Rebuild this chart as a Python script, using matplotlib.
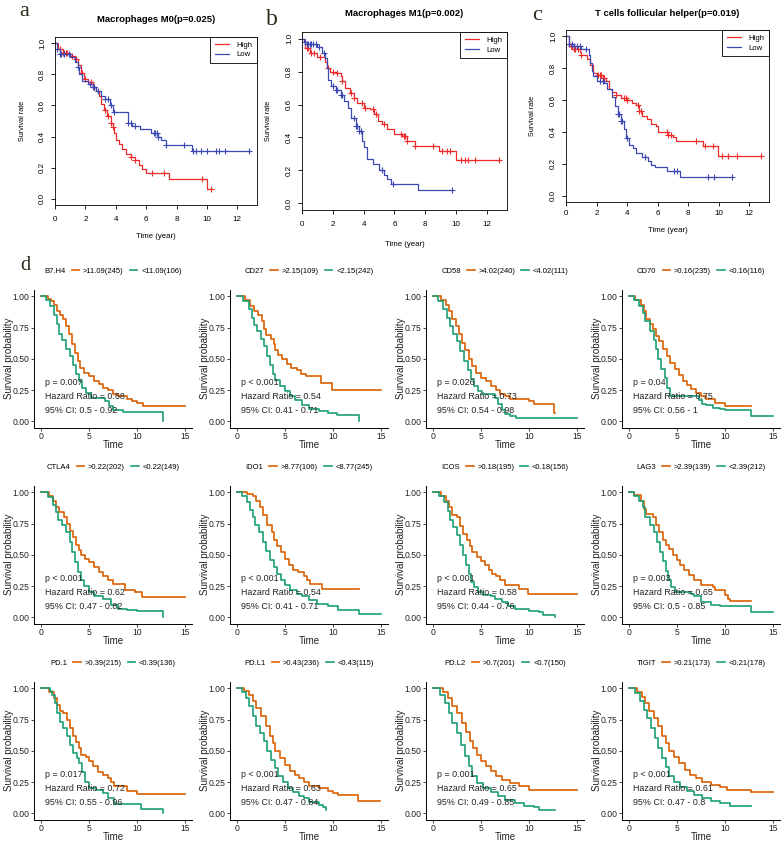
import numpy as np
import matplotlib
matplotlib.use("Agg")
import matplotlib.pyplot as plt
from matplotlib.lines import Line2D

plt.rcParams['font.family'] = ['Liberation Sans', 'DejaVu Sans']

W, H = 784, 844
RED = '#EE2A2A'
BLUE = '#3D49B3'
ORANGE = '#D95F02'
GREEN = '#1B9E77'

# --- top row (a-c): KM steps, plus censor times ---
m0_hi_t = [0, 0.2, 0.5, 1.0, 1.3, 1.5, 1.7, 1.9, 2.2, 2.5, 2.7, 2.9, 3.0, 3.2, 3.4, 3.7, 3.8, 3.9, 4.0, 4.2, 4.4, 4.7, 5.0, 5.3, 5.5, 5.7, 6.0, 7.5, 10.0, 10.3]
m0_hi_s = [1.0, 0.96, 0.94, 0.92, 0.90, 0.86, 0.81, 0.77, 0.75, 0.72, 0.69, 0.66, 0.61, 0.57, 0.53, 0.49, 0.46, 0.42, 0.38, 0.35, 0.32, 0.29, 0.27, 0.25, 0.22, 0.19, 0.165, 0.13, 0.065, 0.065]
m0_hi_c = [0.3, 0.5, 0.6, 0.7, 0.8, 1.1, 1.4, 1.8, 2.0, 2.4, 2.6, 3.3, 3.5, 3.7, 3.8, 5.0, 5.3, 6.4, 7.2, 9.7, 10.3]
m0_lo_t = [0, 0.1, 0.3, 1.0, 1.3, 1.5, 1.6, 1.8, 2.2, 2.5, 2.7, 3.0, 3.3, 3.6, 3.8, 4.8, 5.1, 5.6, 6.3, 6.8, 7.0, 7.3, 9.0, 12.8]
m0_lo_s = [1.0, 0.96, 0.93, 0.91, 0.88, 0.85, 0.80, 0.76, 0.74, 0.72, 0.69, 0.66, 0.64, 0.60, 0.557, 0.486, 0.465, 0.45, 0.425, 0.40, 0.375, 0.345, 0.31, 0.31]
m0_lo_c = [0.1, 0.3, 0.4, 0.6, 0.9, 1.5, 2.3, 2.5, 2.6, 2.8, 3.3, 3.5, 3.7, 3.9, 4.8, 5.0, 5.3, 6.5, 6.6, 6.7, 6.8, 7.3, 8.5, 9.1, 9.3, 9.6, 10.0, 10.6, 10.8, 11.2, 12.8]

m1_hi_t = [0, 0.2, 0.5, 1.0, 1.5, 1.6, 1.8, 2.2, 2.5, 2.6, 2.8, 3.1, 3.4, 3.6, 4.0, 4.4, 4.7, 4.9, 5.2, 5.5, 6.0, 6.5, 6.8, 7.3, 8.9, 10.0, 12.8]
m1_hi_s = [1.0, 0.94, 0.91, 0.89, 0.86, 0.82, 0.80, 0.79, 0.77, 0.74, 0.70, 0.67, 0.64, 0.61, 0.58, 0.57, 0.54, 0.50, 0.48, 0.45, 0.42, 0.41, 0.38, 0.348, 0.315, 0.264, 0.264]
m1_hi_c = [0.3, 0.4, 0.6, 0.8, 1.2, 1.7, 2.0, 2.3, 2.6, 3.2, 3.4, 3.9, 4.1, 4.6, 4.8, 5.3, 6.4, 6.6, 6.7, 6.8, 7.3, 8.5, 9.1, 9.4, 9.6, 10.3, 10.6, 10.8, 11.2, 12.8]
m1_lo_t = [0, 0.1, 0.3, 1.0, 1.3, 1.5, 1.6, 1.7, 1.9, 2.2, 2.5, 2.7, 3.0, 3.2, 3.5, 3.7, 3.9, 4.0, 4.2, 4.6, 5.0, 5.3, 5.5, 5.8, 7.5, 9.7]
m1_lo_s = [1.0, 0.98, 0.97, 0.95, 0.91, 0.88, 0.82, 0.75, 0.71, 0.69, 0.66, 0.62, 0.58, 0.52, 0.47, 0.44, 0.38, 0.34, 0.27, 0.24, 0.20, 0.17, 0.15, 0.12, 0.08, 0.08]
m1_lo_c = [0.2, 0.3, 0.4, 0.5, 0.6, 0.7, 0.9, 1.1, 1.4, 2.0, 2.2, 2.3, 2.5, 2.6, 3.4, 3.5, 3.6, 3.7, 3.8, 5.2, 5.9, 9.7]

tfh_hi_t = [0, 0.2, 0.5, 0.9, 1.0, 1.4, 1.6, 1.8, 2.0, 2.4, 2.6, 2.8, 3.0, 3.3, 3.6, 4.0, 4.3, 4.6, 4.8, 5.0, 5.3, 5.6, 5.9, 6.0, 6.7, 7.0, 7.2, 9.0, 9.95, 12.8]
tfh_hi_s = [1.0, 0.94, 0.92, 0.90, 0.88, 0.86, 0.82, 0.77, 0.76, 0.74, 0.72, 0.67, 0.65, 0.63, 0.61, 0.60, 0.58, 0.57, 0.53, 0.50, 0.48, 0.45, 0.44, 0.40, 0.38, 0.37, 0.346, 0.31, 0.25, 0.25]
tfh_hi_c = [0.3, 0.4, 0.5, 0.6, 0.8, 1.0, 2.1, 2.2, 2.3, 2.4, 2.5, 3.3, 3.8, 3.9, 4.0, 4.7, 4.8, 4.9, 6.6, 6.7, 6.9, 8.5, 9.1, 9.6, 10.2, 10.6, 11.2, 12.8]
tfh_lo_t = [0, 0.2, 0.5, 1.0, 1.5, 1.6, 1.7, 1.8, 2.0, 2.5, 2.7, 3.0, 3.2, 3.4, 3.6, 3.8, 3.9, 4.1, 4.4, 4.6, 5.0, 5.4, 5.6, 5.8, 6.6, 7.5, 10.9]
tfh_lo_s = [1.0, 0.95, 0.94, 0.92, 0.88, 0.83, 0.78, 0.75, 0.72, 0.71, 0.67, 0.62, 0.56, 0.51, 0.47, 0.42, 0.36, 0.32, 0.30, 0.27, 0.24, 0.22, 0.19, 0.18, 0.155, 0.12, 0.12]
tfh_lo_c = [0.2, 0.4, 0.5, 0.7, 0.9, 1.3, 2.2, 2.4, 3.4, 3.5, 3.6, 3.7, 4.0, 5.2, 7.1, 7.3, 9.3, 9.7, 10.9]

top_titles = ['Macrophages M0(p=0.025)', 'Macrophages M1(p=0.002)', 'T cells follicular helper(p=0.019)']

# --- panel d: immune checkpoint genes ---
genes = ['B7.H4', 'CD27', 'CD58', 'CD70', 'CTLA4', 'IDO1', 'ICOS', 'LAG3', 'PD.1', 'PD.L1', 'PD.L2', 'TIGIT']
cutoffs = ['11.09', '2.15', '4.02', '0.16', '0.22', '8.77', '0.18', '2.39', '0.39', '0.43', '0.7', '0.21']
n_high = [245, 109, 240, 235, 202, 106, 195, 139, 215, 236, 201, 173]
n_low = [106, 242, 111, 116, 149, 245, 156, 212, 136, 115, 150, 178]
p_text = ['p = 0.007', 'p < 0.001', 'p = 0.026', 'p = 0.04', 'p < 0.001', 'p < 0.001',
          'p < 0.001', 'p = 0.003', 'p = 0.017', 'p < 0.001', 'p = 0.001', 'p < 0.001']
hazard = ['0.68', '0.54', '0.73', '0.75', '0.62', '0.54', '0.58', '0.65', '0.72', '0.63', '0.65', '0.61']
ci_text = ['0.5 - 0.92', '0.41 - 0.71', '0.54 - 0.98', '0.56 - 1', '0.47 - 0.82', '0.41 - 0.71',
           '0.44 - 0.76', '0.5 - 0.85', '0.55 - 0.96', '0.47 - 0.84', '0.49 - 0.85', '0.47 - 0.8']

b7h4_hi_t = [0, 0.7, 1.0, 1.3, 1.6, 2.0, 2.3, 2.6, 2.9, 3.2, 3.5, 3.8, 4.1, 4.5, 5.0, 5.5, 6.0, 6.5, 7.0, 7.5, 8.0, 9.0, 9.5, 10.0, 10.6, 15.0]
b7h4_hi_s = [1.0, 0.98, 0.96, 0.93, 0.88, 0.85, 0.82, 0.76, 0.70, 0.62, 0.55, 0.48, 0.43, 0.39, 0.36, 0.32, 0.30, 0.27, 0.25, 0.22, 0.20, 0.18, 0.16, 0.15, 0.125, 0.125]
b7h4_lo_t = [0, 0.5, 0.9, 1.3, 1.6, 1.9, 2.2, 2.6, 3.0, 3.3, 3.6, 4.0, 4.3, 4.7, 5.2, 6.7, 7.1, 7.5, 8.5, 12.7]
b7h4_lo_s = [1.0, 0.97, 0.92, 0.85, 0.78, 0.70, 0.65, 0.58, 0.52, 0.45, 0.38, 0.32, 0.27, 0.23, 0.19, 0.16, 0.12, 0.09, 0.072, 0.0]

cd27_hi_t = [0, 0.8, 1.3, 1.8, 2.2, 2.6, 2.8, 3.0, 3.5, 3.8, 4.0, 4.3, 4.7, 5.2, 5.6, 6.2, 6.7, 7.2, 8.8, 9.9, 15.0]
cd27_hi_s = [1.0, 0.97, 0.92, 0.88, 0.85, 0.80, 0.74, 0.69, 0.66, 0.62, 0.57, 0.53, 0.50, 0.46, 0.43, 0.41, 0.38, 0.36, 0.31, 0.25, 0.25]
cd27_lo_t = [0, 0.6, 1.2, 1.5, 1.8, 2.1, 2.5, 2.8, 3.1, 3.4, 3.7, 4.0, 4.5, 5.0, 5.5, 6.0, 6.8, 7.5, 8.5, 9.5, 10.4, 12.7]
cd27_lo_s = [1.0, 0.96, 0.90, 0.83, 0.77, 0.72, 0.66, 0.60, 0.52, 0.45, 0.38, 0.33, 0.28, 0.24, 0.20, 0.17, 0.13, 0.10, 0.08, 0.07, 0.05, 0.0]

cd58_hi_t = [0, 0.8, 1.3, 1.6, 2.0, 2.4, 2.7, 3.0, 3.3, 3.7, 4.1, 4.5, 5.0, 5.5, 6.0, 6.6, 7.0, 7.5, 8.0, 9.5, 10.0, 10.5, 12.6, 12.7]
cd58_hi_s = [1.0, 0.97, 0.93, 0.88, 0.82, 0.76, 0.70, 0.63, 0.57, 0.50, 0.44, 0.39, 0.35, 0.32, 0.28, 0.25, 0.22, 0.20, 0.18, 0.18, 0.16, 0.14, 0.07, 0.07]
cd58_lo_t = [0, 0.5, 1.0, 1.4, 1.8, 2.1, 2.5, 2.8, 3.2, 3.6, 3.9, 4.3, 4.7, 5.1, 6.5, 6.8, 7.2, 7.5, 8.0, 8.6, 15.0]
cd58_lo_s = [1.0, 0.96, 0.90, 0.83, 0.76, 0.70, 0.64, 0.56, 0.48, 0.41, 0.34, 0.28, 0.24, 0.22, 0.19, 0.14, 0.09, 0.06, 0.045, 0.027, 0.027]

cd70_hi_t = [0, 0.6, 1.2, 1.5, 1.8, 2.2, 2.5, 2.8, 3.1, 3.5, 3.9, 4.3, 4.8, 5.2, 5.6, 6.0, 6.5, 7.0, 7.5, 8.0, 9.0, 10.0, 12.7]
cd70_hi_s = [1.0, 0.97, 0.93, 0.88, 0.82, 0.78, 0.74, 0.68, 0.64, 0.58, 0.52, 0.47, 0.42, 0.37, 0.32, 0.29, 0.26, 0.23, 0.20, 0.18, 0.15, 0.125, 0.125]
cd70_lo_t = [0, 0.5, 1.0, 1.4, 1.7, 2.2, 2.6, 2.8, 3.0, 3.3, 3.7, 4.0, 4.3, 7.3, 7.6, 8.0, 8.8, 9.5, 10.0, 12.7, 15.0]
cd70_lo_s = [1.0, 0.97, 0.92, 0.87, 0.80, 0.72, 0.65, 0.58, 0.50, 0.42, 0.35, 0.27, 0.205, 0.17, 0.14, 0.13, 0.11, 0.10, 0.093, 0.04, 0.04]

ctla4_hi_t = [0, 0.8, 1.2, 1.5, 1.9, 2.4, 2.7, 3.0, 3.3, 3.6, 3.9, 4.2, 4.6, 5.0, 5.5, 6.0, 6.5, 7.0, 7.5, 8.8, 9.8, 10.5, 15.0]
ctla4_hi_s = [1.0, 0.97, 0.93, 0.88, 0.84, 0.80, 0.75, 0.69, 0.64, 0.58, 0.54, 0.50, 0.47, 0.44, 0.40, 0.36, 0.33, 0.30, 0.27, 0.22, 0.20, 0.16, 0.16]
ctla4_lo_t = [0, 0.7, 1.2, 1.5, 1.8, 2.2, 2.6, 3.0, 3.2, 3.5, 3.8, 4.2, 4.5, 5.0, 5.5, 6.5, 7.3, 8.0, 9.0, 10.0, 12.7]
ctla4_lo_s = [1.0, 0.96, 0.90, 0.84, 0.78, 0.74, 0.68, 0.60, 0.52, 0.44, 0.36, 0.30, 0.25, 0.20, 0.17, 0.15, 0.10, 0.07, 0.06, 0.048, 0.0]

ido1_hi_t = [0, 1.0, 1.7, 2.0, 2.4, 2.7, 3.1, 3.6, 3.8, 4.2, 4.6, 5.0, 5.4, 5.8, 6.3, 7.0, 7.3, 7.6, 8.9, 12.7]
ido1_hi_s = [1.0, 0.99, 0.97, 0.93, 0.88, 0.82, 0.74, 0.68, 0.62, 0.57, 0.52, 0.47, 0.42, 0.38, 0.36, 0.33, 0.30, 0.267, 0.23, 0.23]
ido1_lo_t = [0, 0.5, 1.0, 1.3, 1.6, 1.9, 2.3, 2.7, 3.0, 3.4, 3.8, 4.2, 4.6, 5.0, 5.5, 6.2, 6.8, 7.5, 8.3, 9.5, 10.5, 12.7, 15.0]
ido1_lo_s = [1.0, 0.97, 0.92, 0.86, 0.80, 0.74, 0.68, 0.60, 0.53, 0.46, 0.40, 0.35, 0.30, 0.26, 0.22, 0.19, 0.17, 0.14, 0.11, 0.09, 0.06, 0.027, 0.027]

icos_hi_t = [0, 0.8, 1.3, 1.6, 2.0, 2.5, 2.8, 3.1, 3.5, 3.8, 4.1, 4.6, 5.0, 5.4, 5.8, 6.1, 6.6, 7.0, 7.5, 9.0, 9.9, 15.0]
icos_hi_s = [1.0, 0.97, 0.93, 0.88, 0.82, 0.80, 0.73, 0.67, 0.62, 0.57, 0.52, 0.48, 0.45, 0.42, 0.38, 0.35, 0.33, 0.30, 0.26, 0.23, 0.19, 0.19]
icos_lo_t = [0, 0.6, 1.1, 1.5, 1.8, 2.1, 2.5, 2.8, 3.1, 3.4, 3.7, 4.0, 4.3, 4.7, 5.2, 6.0, 6.5, 7.2, 7.8, 8.5, 10.0, 11.0, 11.5, 12.7]
icos_lo_s = [1.0, 0.97, 0.92, 0.85, 0.78, 0.72, 0.66, 0.58, 0.50, 0.42, 0.35, 0.28, 0.24, 0.20, 0.18, 0.17, 0.15, 0.12, 0.09, 0.07, 0.05, 0.04, 0.02, 0.0]

lag3_hi_t = [0, 0.5, 1.2, 1.5, 1.8, 2.5, 2.8, 3.1, 3.5, 3.8, 4.2, 4.6, 5.0, 5.3, 5.7, 6.2, 6.8, 7.5, 8.8, 9.0, 10.0, 10.3, 10.5, 12.7]
lag3_hi_s = [1.0, 0.98, 0.93, 0.87, 0.83, 0.80, 0.74, 0.68, 0.62, 0.58, 0.55, 0.50, 0.46, 0.42, 0.38, 0.34, 0.30, 0.26, 0.24, 0.22, 0.18, 0.15, 0.128, 0.128]
lag3_lo_t = [0, 0.5, 1.0, 1.4, 1.7, 2.2, 2.6, 2.9, 3.2, 3.5, 3.8, 4.1, 4.4, 4.8, 6.5, 6.8, 7.5, 8.5, 9.5, 12.7, 15.0]
lag3_lo_s = [1.0, 0.97, 0.93, 0.88, 0.80, 0.74, 0.68, 0.60, 0.52, 0.45, 0.37, 0.30, 0.24, 0.20, 0.19, 0.17, 0.12, 0.10, 0.093, 0.045, 0.045]

pd1_hi_t = [0, 0.8, 1.3, 1.6, 2.0, 2.3, 2.7, 3.0, 3.3, 3.6, 3.9, 4.2, 4.7, 5.0, 5.4, 5.9, 6.5, 7.0, 7.3, 7.6, 9.0, 10.0, 15.0]
pd1_hi_s = [1.0, 0.97, 0.92, 0.87, 0.82, 0.80, 0.75, 0.68, 0.62, 0.57, 0.52, 0.47, 0.45, 0.42, 0.38, 0.33, 0.31, 0.28, 0.25, 0.22, 0.18, 0.157, 0.157]
pd1_lo_t = [0, 0.9, 1.1, 1.4, 1.6, 2.0, 2.3, 2.7, 3.0, 3.3, 3.7, 4.0, 4.3, 4.6, 5.0, 5.7, 6.5, 7.0, 7.6, 10.4, 12.7]
pd1_lo_s = [1.0, 0.98, 0.95, 0.88, 0.80, 0.73, 0.68, 0.62, 0.55, 0.48, 0.44, 0.40, 0.33, 0.25, 0.20, 0.19, 0.16, 0.12, 0.077, 0.037, 0.0]

pdl1_hi_t = [0, 0.7, 1.2, 1.6, 2.0, 2.5, 3.0, 3.4, 3.7, 4.0, 4.5, 5.0, 5.5, 6.0, 6.5, 7.0, 7.5, 8.5, 9.5, 10.0, 10.5, 12.6, 14.9]
pdl1_hi_s = [1.0, 0.98, 0.95, 0.90, 0.84, 0.78, 0.70, 0.62, 0.56, 0.50, 0.44, 0.39, 0.34, 0.31, 0.28, 0.25, 0.22, 0.20, 0.18, 0.16, 0.15, 0.10, 0.10]
pdl1_lo_t = [0, 0.5, 0.9, 1.2, 1.6, 2.0, 2.4, 2.8, 3.1, 3.5, 3.9, 4.3, 4.8, 5.3, 5.8, 6.5, 7.0, 7.5, 8.5, 9.0, 9.3]
pdl1_lo_s = [1.0, 0.97, 0.92, 0.86, 0.78, 0.70, 0.64, 0.58, 0.50, 0.43, 0.36, 0.30, 0.25, 0.20, 0.17, 0.14, 0.12, 0.09, 0.07, 0.05, 0.03]

pdl2_hi_t = [0, 1.0, 1.5, 2.0, 2.5, 3.0, 3.4, 3.8, 4.2, 4.6, 5.0, 5.5, 6.0, 6.6, 7.2, 8.0, 9.0, 10.0, 15.0]
pdl2_hi_s = [1.0, 0.97, 0.92, 0.86, 0.80, 0.72, 0.65, 0.58, 0.52, 0.47, 0.42, 0.38, 0.34, 0.30, 0.27, 0.24, 0.22, 0.19, 0.19]
pdl2_lo_t = [0, 0.7, 1.2, 1.6, 2.0, 2.5, 2.9, 3.3, 3.7, 4.1, 4.6, 5.2, 6.0, 6.8, 7.5, 8.5, 9.5, 10.5, 11.0, 12.7]
pdl2_lo_s = [1.0, 0.95, 0.88, 0.80, 0.72, 0.64, 0.55, 0.46, 0.38, 0.30, 0.24, 0.20, 0.17, 0.14, 0.11, 0.08, 0.06, 0.05, 0.03, 0.03]

tigit_hi_t = [0, 0.8, 1.3, 1.7, 2.1, 2.6, 3.0, 3.4, 3.8, 4.2, 4.7, 5.2, 5.8, 6.4, 7.0, 7.6, 8.5, 9.5, 10.2, 12.7, 15.0]
tigit_hi_s = [1.0, 0.97, 0.93, 0.88, 0.82, 0.76, 0.70, 0.62, 0.56, 0.50, 0.45, 0.40, 0.35, 0.31, 0.28, 0.25, 0.23, 0.21, 0.19, 0.17, 0.17]
tigit_lo_t = [0, 0.6, 1.1, 1.5, 1.9, 2.3, 2.7, 3.0, 3.4, 3.8, 4.2, 4.7, 5.3, 6.0, 6.8, 7.6, 8.5, 9.5, 10.5, 12.7]
tigit_lo_s = [1.0, 0.96, 0.90, 0.83, 0.76, 0.68, 0.60, 0.52, 0.44, 0.37, 0.30, 0.25, 0.21, 0.18, 0.15, 0.12, 0.10, 0.08, 0.06, 0.06]

gene_curves = [
    (b7h4_hi_t, b7h4_hi_s, b7h4_lo_t, b7h4_lo_s),
    (cd27_hi_t, cd27_hi_s, cd27_lo_t, cd27_lo_s),
    (cd58_hi_t, cd58_hi_s, cd58_lo_t, cd58_lo_s),
    (cd70_hi_t, cd70_hi_s, cd70_lo_t, cd70_lo_s),
    (ctla4_hi_t, ctla4_hi_s, ctla4_lo_t, ctla4_lo_s),
    (ido1_hi_t, ido1_hi_s, ido1_lo_t, ido1_lo_s),
    (icos_hi_t, icos_hi_s, icos_lo_t, icos_lo_s),
    (lag3_hi_t, lag3_hi_s, lag3_lo_t, lag3_lo_s),
    (pd1_hi_t, pd1_hi_s, pd1_lo_t, pd1_lo_s),
    (pdl1_hi_t, pdl1_hi_s, pdl1_lo_t, pdl1_lo_s),
    (pdl2_hi_t, pdl2_hi_s, pdl2_lo_t, pdl2_lo_s),
    (tigit_hi_t, tigit_hi_s, tigit_lo_t, tigit_lo_s),
]


fig = plt.figure(figsize=(W / 100, H / 100), dpi=100)


def px_axes(left, top, right, bottom):
    return fig.add_axes([left / W, 1 - bottom / H, (right - left) / W, (bottom - top) / H])


def ftext(x, y, s, **kw):
    fig.text(x / W, 1 - y / H, s, **kw)


def surv_at(t, s, x):
    idx = np.searchsorted(np.asarray(t), np.asarray(x), side='right') - 1
    return np.asarray(s)[idx]


# --- panels a, b, c (base-R style) ---
top_boxes = [(55, 37, 257, 205), (302, 32, 507, 210), (566, 30, 769, 202)]
top_xpad = [4.8, 4.8, 3.0]
top_curves = [
    ((m0_hi_t, m0_hi_s, m0_hi_c), (m0_lo_t, m0_lo_s, m0_lo_c)),
    ((m1_hi_t, m1_hi_s, m1_hi_c), (m1_lo_t, m1_lo_s, m1_lo_c)),
    ((tfh_hi_t, tfh_hi_s, tfh_hi_c), (tfh_lo_t, tfh_lo_s, tfh_lo_c)),
]
title_y = [19, 13, 13]
xlab_y = [237, 244, 230]
letters = [('a', 24, 16.5, 16), ('b', 272, 25, 17), ('c', 537, 20, 16)]

for i, box in enumerate(top_boxes):
    ax = px_axes(*box)
    for (t, s, c), col in zip(top_curves[i], [RED, BLUE]):
        ax.step(t, s, where='post', color=col, lw=0.9)
        ax.plot(c, surv_at(t, s, c), ls='none', marker='+', ms=4.5, mew=0.8, color=col)
    ax.set_xlim(0, 13.3)
    ax.set_ylim(-0.04, 1.04)
    ax.set_xticks(range(0, 13, 2))
    yt = np.arange(0, 1.01, 0.2)
    ax.set_yticks(yt)
    ax.set_yticklabels([f'{v:.1f}' for v in yt], rotation=90, va='center')
    ax.tick_params(axis='x', length=3, width=0.6, labelsize=5.8, pad=top_xpad[i])
    ax.tick_params(axis='y', length=3, width=0.6, labelsize=5.8, pad=3.5)
    for sp in ax.spines.values():
        sp.set_linewidth(0.6)
    leg_handles = [Line2D([], [], color=RED, lw=0.9), Line2D([], [], color=BLUE, lw=0.9)]
    leg = ax.legend(leg_handles, ['High', 'Low'], loc='upper right', borderaxespad=0, fancybox=False,
                    edgecolor='black', framealpha=1, fontsize=5.6, handlelength=1.9,
                    handletextpad=0.9, borderpad=0.6, labelspacing=0.25)
    leg.get_frame().set_linewidth(0.6)
    l, t_, r, b = box
    ftext((l + r) / 2, title_y[i], top_titles[i], fontsize=6.8, fontweight='bold', ha='center', va='center')
    ftext((l + r) / 2, xlab_y[i], 'Time (year)', fontsize=5.6, ha='center', va='center')
    ftext(l - 33, (t_ + b) / 2, 'Survival rate', fontsize=5.2, rotation=90, ha='center', va='center')
    ch, lx, ly, fs = letters[i]
    ftext(lx, ly, ch, fontsize=fs, family='Liberation Serif', color='#2a2a1a', ha='center', va='baseline')

ftext(25, 270, 'd', fontsize=14.5, family='Liberation Serif', color='#2a2a1a', ha='center', va='baseline')

# --- panel d grid (survminer style) ---
col_left = [34, 230, 426, 622]
row_top = [290, 486, 682]
pw, ph = 158, 137.5

for k, gene in enumerate(genes):
    r, c = divmod(k, 4)
    l, t_ = col_left[c], row_top[r]
    ax = px_axes(l, t_, l + pw, t_ + ph)
    hi_t, hi_s, lo_t, lo_s = gene_curves[k]
    ax.step(hi_t, hi_s, where='post', color=ORANGE, lw=1.2)
    ax.step(lo_t, lo_s, where='post', color=GREEN, lw=1.2)
    ax.set_xlim(-0.75, 15.75)
    ax.set_ylim(-0.05, 1.05)
    ax.set_xticks([0, 5, 10, 15])
    ax.set_yticks([0, 0.25, 0.5, 0.75, 1.0])
    ax.set_yticklabels(['0.00', '0.25', '0.50', '0.75', '1.00'])
    ax.spines['top'].set_visible(False)
    ax.spines['right'].set_visible(False)
    for side in ['left', 'bottom']:
        ax.spines[side].set_linewidth(0.7)
    ax.tick_params(length=2.2, width=0.6, labelsize=6.2, pad=1.2, colors='#222222')
    ax.text(0.4, 0.31, p_text[k], fontsize=6.4, va='center', color='#222222')
    ax.text(0.4, 0.195, f'Hazard Ratio = {hazard[k]}', fontsize=6.4, va='center', color='#222222')
    ax.text(0.4, 0.088, f'95% CI: {ci_text[k]}', fontsize=6.4, va='center', color='#222222')
    handles = [Line2D([], [], color='none'),
               Line2D([], [], color=ORANGE, lw=1.2),
               Line2D([], [], color=GREEN, lw=1.2)]
    labels = [gene, f'>{cutoffs[k]}({n_high[k]})', f'<{cutoffs[k]}({n_low[k]})']
    ax.legend(handles, labels, ncol=3, frameon=False, fontsize=5.5, handlelength=1.0,
              handletextpad=0.5, columnspacing=0.8, loc='center',
              bbox_to_anchor=(0.5 - 0.036, 1 + 19 / ph), borderpad=0, borderaxespad=0)
    ftext(l + pw / 2, t_ + ph + 17.5, 'Time', fontsize=7, ha='center', va='center', color='#222222')
    ftext(l - 25, t_ + ph / 2, 'Survival probability', fontsize=7, rotation=90,
          ha='center', va='center', color='#222222')

fig.savefig('out.png', dpi=100)
